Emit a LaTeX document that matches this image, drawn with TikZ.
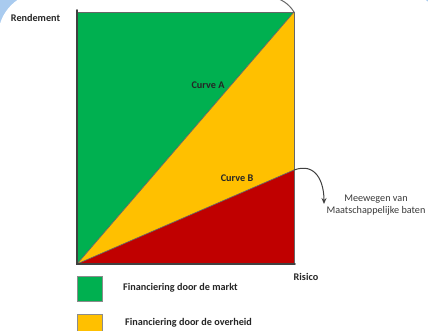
\documentclass[tikz,border=0pt]{standalone}
\usepackage{fontspec}
\setmainfont{Carlito}
\usetikzlibrary{arrows.meta}
\definecolor{bgblue}{HTML}{A9CBEF}
\definecolor{mgreen}{HTML}{00B050}
\definecolor{myellow}{HTML}{FFC000}
\definecolor{mred}{HTML}{C00000}
\definecolor{axisgray}{HTML}{404040}
\definecolor{txtgray}{HTML}{3A3A3A}
\tikzset{
  lbl/.style={font=\fontsize{10.2}{12}\selectfont\bfseries, text=black!85, inner sep=0pt},
  note/.style={font=\fontsize{10.2}{12.5}\selectfont, text=txtgray, inner sep=0pt, align=center},
  legbox/.style={minimum size=25pt, inner sep=0pt, draw=black!45, line width=0.6pt},
  axisline/.style={draw=axisgray, line width=1.8pt},
  edge/.style={draw=axisgray!80, line width=0.7pt},
}
\begin{document}
\begin{tikzpicture}[x=1pt,y=-1pt]
\useasboundingbox (0,0) rectangle (428,330);
\fill[bgblue] (0,0) rectangle (428,330);
\fill[white, rounded corners=45pt] (-2,-8) rectangle (445,400);
% corners
\coordinate (O) at (77,264);
\coordinate (T) at (77,12);
\coordinate (TR) at (294,12);
\coordinate (R) at (294,264);
\coordinate (B) at (294,170);
% regions
\fill[mgreen] (O) -- (T) -- (TR) -- cycle;
\fill[myellow] (O) -- (TR) -- (B) -- cycle;
\fill[mred] (O) -- (B) -- (R) -- cycle;
\draw[edge] (O) -- (TR);
\draw[edge] (O) -- (B);
\draw[edge] (T) -- (TR) -- (R);
\draw[axisline, line cap=round] (77,10) -- (O) -- (295,264);
% top curve (cropped)
\coordinate (topend) at (270,-4);
\draw[edge, line width=1pt] (TR) .. controls (289,4) and (282,-1) .. (topend);
% right arrow
\coordinate (arrtip) at (324,204);
\draw[axisgray, line width=1pt, -{Stealth[length=6pt,width=5pt]}] (B) .. controls (316,162) and (324,182) .. (arrtip);
% labels
\node[lbl] (rend) at (35.5,18) {Rendement};
\node[lbl] (ca) at (208,85) {Curve A};
\node[lbl] (cb) at (237,178) {Curve B};
\node[lbl] (ris) at (306,277) {Risico};
\node[note] (mw) at (376,205) {Meewegen van\\Maatschappelijke baten};
% legend
\node[legbox, fill=mgreen] (lg1) at (89.5,289) {};
\node[legbox, fill=myellow] (lg2) at (89.5,327) {};
\node[lbl, anchor=west] (lt1) at (123,288) {Financiering door de markt};
\node[lbl, anchor=west] (lt2) at (125,323) {Financiering door de overheid};
\end{tikzpicture}
\end{document}
